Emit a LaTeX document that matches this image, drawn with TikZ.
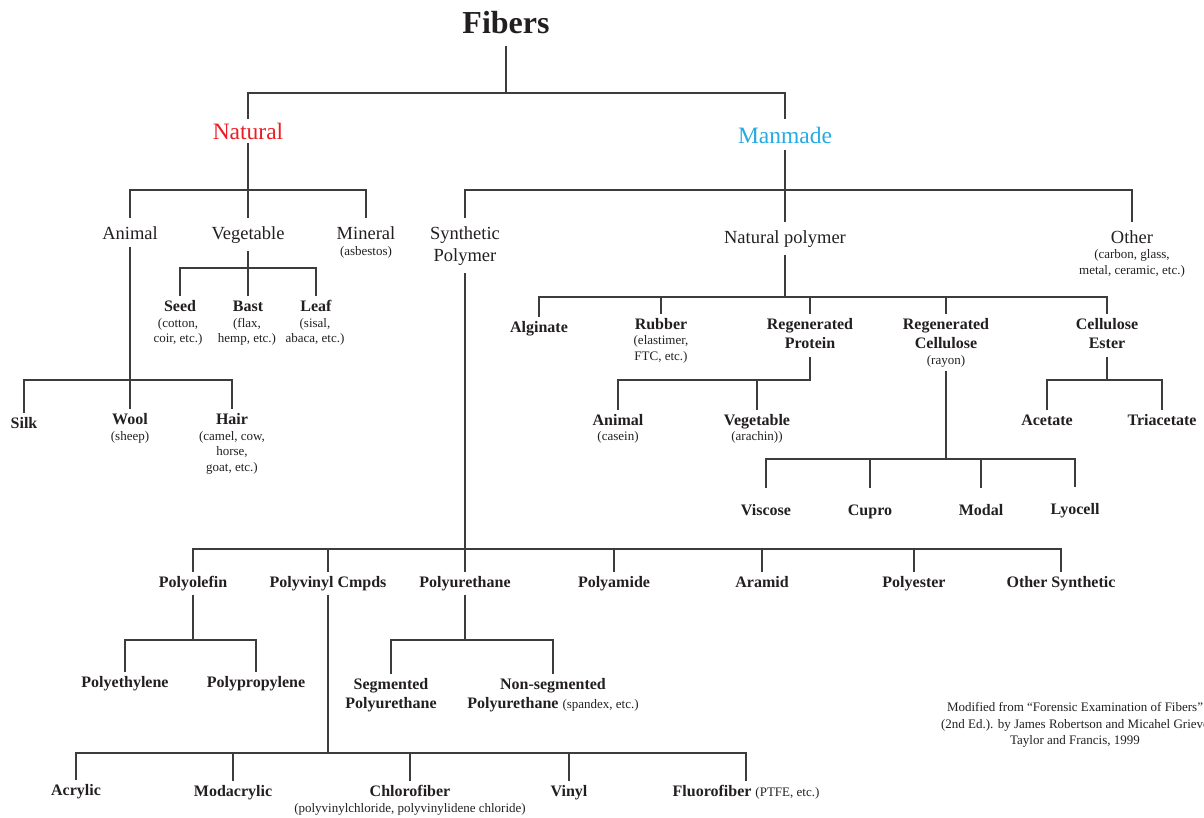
\documentclass[tikz,border=0pt]{standalone}
\usepackage{fontspec}
\setmainfont{Liberation Serif}
\definecolor{ink}{HTML}{231F20}
\definecolor{wire}{HTML}{3C3C3C}
\definecolor{natred}{HTML}{ED1C24}
\definecolor{mancyan}{HTML}{27AAE1}
\newcommand{\FtTitle}{\fontsize{32}{38}\selectfont}
\newcommand{\FtMain}{\fontsize{23.5}{28}\selectfont}
\newcommand{\FtCat}{\fontsize{18.5}{22}\selectfont}
\newcommand{\FtLab}{\fontsize{16}{19}\selectfont}
\newcommand{\FtSm}{\fontsize{13}{15.5}\selectfont}
\begin{document}
\begin{tikzpicture}[x=1pt,y=-1pt,
  every node/.style={text=ink, inner xsep=2pt},
  conn/.style={draw=wire, line width=1.4pt},
  ttl/.style={anchor=base, font=\FtTitle\bfseries, inner ysep=12pt},
  toplvl/.style={anchor=base, font=\FtMain, inner ysep=3.5pt},
  catg/.style={anchor=base, font=\FtCat, inner ysep=8pt},
  lab/.style={anchor=base, font=\FtLab\bfseries, inner ysep=4pt},
  far/.style={inner ysep=16pt},
  subtxt/.style={anchor=base, font=\FtSm, inner ysep=1pt}]
\useasboundingbox (0,0) rectangle (1204,817);

% ---------- nodes ----------
\node[ttl] (fibers) at (506,33) {Fibers};
\node[toplvl, text=natred] (natural) at (248,139) {Natural};
\node[toplvl, text=mancyan, inner ysep=7pt] (manmade) at (785,143) {Manmade};

\node[catg] (animal) at (130,239) {Animal};
\node[catg] (vegetable) at (248,239) {Vegetable};
\node[catg] (mineral) at (366,239) {Mineral};
\node[subtxt] (asbestos) at (366,255) {(asbestos)};

\node[catg] (synA) at (465,239) {Synthetic};
\node[catg] (synB) at (465,261) {Polymer};
\node[catg] (natpoly) at (785,243) {Natural polymer};
\node[catg] (other) at (1132,243) {Other};
\node[subtxt] (otherA) at (1132,258) {(carbon, glass,};
\node[subtxt] (otherB) at (1132,274) {metal, ceramic, etc.)};

% vegetable
\node[lab] (seed) at (180,311) {Seed};
\node[subtxt] (seedA) at (178,327) {(cotton,};
\node[subtxt] (seedB) at (178,342) {coir, etc.)};
\node[lab] (bast) at (248,311) {Bast};
\node[subtxt] (bastA) at (247,327) {(flax,};
\node[subtxt] (bastB) at (247,342) {hemp, etc.)};
\node[lab] (leaf) at (316,311) {Leaf};
\node[subtxt] (leafA) at (315,327) {(sisal,};
\node[subtxt] (leafB) at (315,342) {abaca, etc.)};

% animal
\node[lab] (silk) at (24,428) {Silk};
\node[lab] (wool) at (130,424) {Wool};
\node[subtxt] (sheep) at (130,440) {(sheep)};
\node[lab] (hair) at (232,424) {Hair};
\node[subtxt] (hairA) at (232,440) {(camel, cow,};
\node[subtxt] (hairB) at (232,455) {horse,};
\node[subtxt] (hairC) at (232,471) {goat, etc.)};

% natural polymer
\node[lab] (alginate) at (539,332) {Alginate};
\node[lab] (rubber) at (661,329) {Rubber};
\node[subtxt] (rubberA) at (661,344) {(elastimer,};
\node[subtxt] (rubberB) at (661,360) {FTC, etc.)};
\node[lab] (regprotA) at (810,329) {Regenerated};
\node[lab, inner ysep=9pt] (regprotB) at (810,348) {Protein};
\node[lab] (regcellA) at (946,329) {Regenerated};
\node[lab] (regcellB) at (946,348) {Cellulose};
\node[subtxt, inner ysep=4pt] (rayon) at (946,364) {(rayon)};
\node[lab] (cellestA) at (1107,329) {Cellulose};
\node[lab, inner ysep=9pt] (cellestB) at (1107,348) {Ester};

\node[lab] (animalB) at (618,425) {Animal};
\node[subtxt] (casein) at (618,440) {(casein)};
\node[lab] (vegB) at (757,425) {Vegetable};
\node[subtxt] (arachin) at (757,440) {(arachin))};

\node[lab] (acetate) at (1047,425) {Acetate};
\node[lab] (triacetate) at (1162,425) {Triacetate};

\node[lab, far] (viscose) at (766,515) {Viscose};
\node[lab, far] (cupro) at (870,515) {Cupro};
\node[lab, far] (modal) at (981,515) {Modal};
\node[lab, far] (lyocell) at (1075,514) {Lyocell};

% synthetic polymer
\node[lab] (polyolefin) at (193,587) {Polyolefin};
\node[lab] (polyvinyl) at (328,587) {Polyvinyl Cmpds};
\node[lab] (polyurethane) at (465,587) {Polyurethane};
\node[lab] (polyamide) at (614,587) {Polyamide};
\node[lab] (aramid) at (762,587) {Aramid};
\node[lab] (polyester) at (914,587) {Polyester};
\node[lab] (othersyn) at (1061,587) {Other Synthetic};

\node[lab] (polyethylene) at (125,687) {Polyethylene};
\node[lab] (polypropylene) at (256,687) {Polypropylene};

\node[lab] (segA) at (391,689) {Segmented};
\node[lab] (segB) at (391,708) {Polyurethane};
\node[lab] (nonsegA) at (553,689) {Non-segmented};
\node[lab] (nonsegB) at (553,708) {Polyurethane {\FtSm\mdseries(spandex, etc.)}};

\node[lab] (acrylic) at (76,795) {Acrylic};
\node[lab] (modacrylic) at (233,796) {Modacrylic};
\node[lab] (chlorofiber) at (410,796) {Chlorofiber};
\node[subtxt] (chloroA) at (410,812) {(polyvinylchloride, polyvinylidene chloride)};
\node[lab] (vinyl) at (569,796) {Vinyl};
\node[lab] (fluoro) at (746,796) {Fluorofiber {\FtSm\mdseries(PTFE, etc.)}};

% citation
\node[subtxt] (citeA) at (1075,711) {Modified from “Forensic Examination of Fibers”};
\node[subtxt] (citeB) at (1075,728) {(2nd Ed.). by James Robertson and Micahel Grieve};
\node[subtxt] (citeC) at (1075,744) {Taylor and Francis, 1999};

% ---------- connectors ----------
\coordinate (bF) at (506,93);
\draw[conn] (fibers.south) -- (bF);
\draw[conn] (natural.north) |- (bF) -| (manmade.north);

\coordinate (bN) at (248,190);
\draw[conn] (natural.south) -- (bN);
\draw[conn] (animal.north) |- (bN) -| (mineral.north);
\draw[conn] (vegetable.north) -- (bN);

\coordinate (bM) at (785,190);
\draw[conn] (manmade.south) -- (bM);
\draw[conn] (synA.north) |- (bM) -| (other.north);
\draw[conn] (natpoly.north) -- (bM);

\coordinate (bA) at (130,380);
\draw[conn] (animal.south) -- (bA);
\draw[conn] (silk.north) |- (bA) -| (hair.north);
\draw[conn] (wool.north) -- (bA);

\coordinate (bV) at (248,268);
\draw[conn] (vegetable.south) -- (bV);
\draw[conn] (seed.north) |- (bV) -| (leaf.north);
\draw[conn] (bast.north) -- (bV);

\coordinate (bNP) at (785,297);
\draw[conn] (natpoly.south) -- (bNP);
\draw[conn] (alginate.north) |- (bNP) -| (cellestA.north);
\foreach \n in {rubber,regprotA,regcellA}
  \draw[conn] (\n.north) -- (\n.north |- bNP);

\coordinate (bRP) at (810,380);
\draw[conn] (regprotB.south) -- (bRP) -| (animalB.north);
\draw[conn] (vegB.north) -- (vegB.north |- bRP);

\coordinate (bRC) at (946,459);
\draw[conn] (rayon.south) -- (bRC);
\draw[conn] (viscose.north) |- (bRC) -| (lyocell.north);
\foreach \n in {cupro,modal}
  \draw[conn] (\n.north) -- (\n.north |- bRC);

\coordinate (bCE) at (1107,380);
\draw[conn] (cellestB.south) -- (bCE);
\draw[conn] (acetate.north) |- (bCE) -| (triacetate.north);

\coordinate (bSP) at (465,549);
\draw[conn] (synB.south) -- (bSP);
\draw[conn] (polyolefin.north) |- (bSP) -| (othersyn.north);
\foreach \n in {polyvinyl,polyurethane,polyamide,aramid,polyester}
  \draw[conn] (\n.north) -- (\n.north |- bSP);

\coordinate (bPO) at (193,640);
\draw[conn] (polyolefin.south) -- (bPO);
\draw[conn] (polyethylene.north) |- (bPO) -| (polypropylene.north);

\coordinate (bPU) at (465,640);
\draw[conn] (polyurethane.south) -- (bPU);
\draw[conn] (segA.north) |- (bPU) -| (nonsegA.north);

\coordinate (bPV) at (328,753);
\draw[conn] (polyvinyl.south) -- (bPV);
\draw[conn] (acrylic.north) |- (bPV) -| (fluoro.north);
\foreach \n in {modacrylic,chlorofiber,vinyl}
  \draw[conn] (\n.north) -- (\n.north |- bPV);
\end{tikzpicture}
\end{document}
